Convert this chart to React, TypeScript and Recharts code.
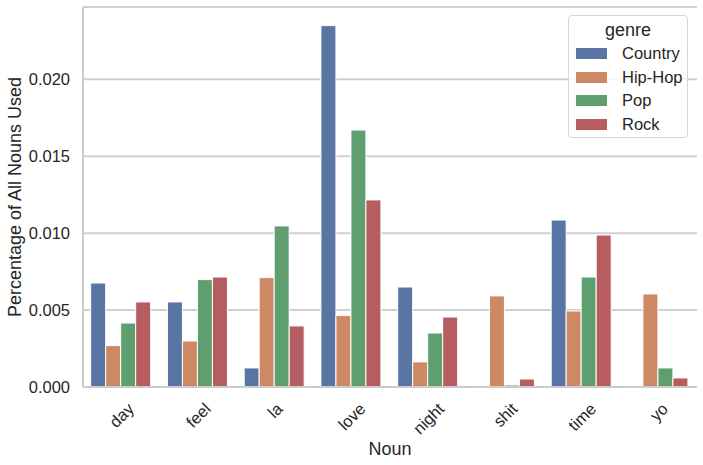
import React from 'react'
import { BarChart, Bar, XAxis, YAxis, CartesianGrid } from 'recharts'

const nouns = ['day', 'feel', 'la', 'love', 'night', 'shit', 'time', 'yo']
const country = [0.00676, 0.00553, 0.00124, 0.02349, 0.0065, 0.0001, 0.01085, 0.0001]
const hipHop = [0.00269, 0.00299, 0.00711, 0.00464, 0.00163, 0.00592, 0.00494, 0.00605]
const pop = [0.00416, 0.00698, 0.01047, 0.0167, 0.00351, 0.00013, 0.00715, 0.00124]
const rock = [0.00553, 0.00715, 0.00397, 0.01216, 0.00455, 0.00052, 0.00988, 0.00059]
const yTicks = [0, 0.005, 0.01, 0.015, 0.02]

const genres = [
  { key: 'Country', values: country, color: '#5975A4' },
  { key: 'Hip-Hop', values: hipHop, color: '#CC8963' },
  { key: 'Pop', values: pop, color: '#5F9E6E' },
  { key: 'Rock', values: rock, color: '#B55D60' },
]

const data = nouns.map((noun, i) => {
  const row: { [k: string]: any } = { noun }
  genres.forEach((g) => {
    row[g.key] = g.values[i]
  })
  return row
})

const FONT = '"Liberation Sans", Arial, sans-serif'
const TEXT = '#262626'
const GRID = '#d0d0d0'
const SPINE = '#cccccc'
const TICK_SIZE = 16.5

let ctx: CanvasRenderingContext2D | null = null
function textWidth(s: string) {
  if (!ctx) ctx = document.createElement('canvas').getContext('2d')
  if (!ctx) return s.length * 9
  ctx.font = `${TICK_SIZE}px ${FONT}`
  return ctx.measureText(s).width
}

// matplotlib-style rotated tick: bbox top sits under the axis, centred on the tick
function RotatedTick(props: any) {
  const { x, y, payload } = props
  const w = textWidth(payload.value)
  const h = TICK_SIZE * 1.15
  const cy = y + (w + h) * 0.3536
  return (
    <text
      transform={`translate(${x},${cy}) rotate(-45)`}
      textAnchor="middle"
      dominantBaseline="central"
      fill={TEXT}
      fontSize={TICK_SIZE}
      fontFamily={FONT}
    >
      {payload.value}
    </text>
  )
}

export default function App() {
  return (
    <div style={{ position: 'absolute', left: 0, top: 0, width: 703, height: 465, background: '#fff' }}>
      <BarChart
        width={703}
        height={465}
        data={data}
        margin={{ top: 7, right: 6, left: 0, bottom: 0 }}
        barCategoryGap="10%"
        barGap={0}
      >
        <CartesianGrid vertical={false} stroke={GRID} strokeWidth={2} />
        <XAxis
          dataKey="noun"
          interval={0}
          height={78}
          tickLine={false}
          tickSize={0}
          tickMargin={12}
          axisLine={{ stroke: SPINE, strokeWidth: 2 }}
          tick={<RotatedTick />}
          label={{ value: 'Noun', position: 'insideBottom', offset: 10, style: { fill: TEXT, fontSize: 18, fontFamily: FONT } }}
        />
        <XAxis xAxisId="top" dataKey="noun" orientation="top" height={0} tick={false} tickLine={false} axisLine={{ stroke: SPINE, strokeWidth: 2 }} />
        <YAxis
          width={83}
          domain={[0, 0.0247]}
          ticks={yTicks}
          tickFormatter={(v: number) => v.toFixed(3)}
          tickLine={false}
          tickSize={0}
          tickMargin={13}
          axisLine={{ stroke: SPINE, strokeWidth: 2 }}
          tick={{ fill: TEXT, fontSize: TICK_SIZE, fontFamily: FONT }}
          label={{
            value: 'Percentage of All Nouns Used',
            angle: -90,
            position: 'insideLeft',
            offset: 15,
            style: { fill: TEXT, fontSize: 18, fontFamily: FONT, textAnchor: 'middle' },
          }}
        />
        <YAxis yAxisId="right" orientation="right" width={0} domain={[0, 0.0247]} tick={false} tickLine={false} axisLine={{ stroke: SPINE, strokeWidth: 2 }} />
        {genres.map((g) => (
          <Bar key={g.key} dataKey={g.key} fill={g.color} stroke="#fff" strokeWidth={1} isAnimationActive={false} />
        ))}
      </BarChart>
      <div
        style={{
          position: 'absolute',
          left: 568,
          top: 15,
          width: 118,
          height: 121,
          border: '1px solid #d6d6d6',
          borderRadius: 4,
          background: 'rgba(255,255,255,0.8)',
          fontFamily: FONT,
          color: TEXT,
        }}
      >
        <div style={{ position: 'absolute', left: 0, right: 0, top: 2, lineHeight: '24px', textAlign: 'center', fontSize: 18 }}>genre</div>
        {genres.map((g, i) => (
          <div key={g.key} style={{ position: 'absolute', left: 0, top: 26.3 + i * 23.4, height: 23.4, width: '100%' }}>
            <div style={{ position: 'absolute', left: 7, top: 6.2, width: 31, height: 11, background: g.color }} />
            <div style={{ position: 'absolute', left: 53, top: 0, lineHeight: '23.4px', fontSize: TICK_SIZE }}>{g.key}</div>
          </div>
        ))}
      </div>
    </div>
  )
}
